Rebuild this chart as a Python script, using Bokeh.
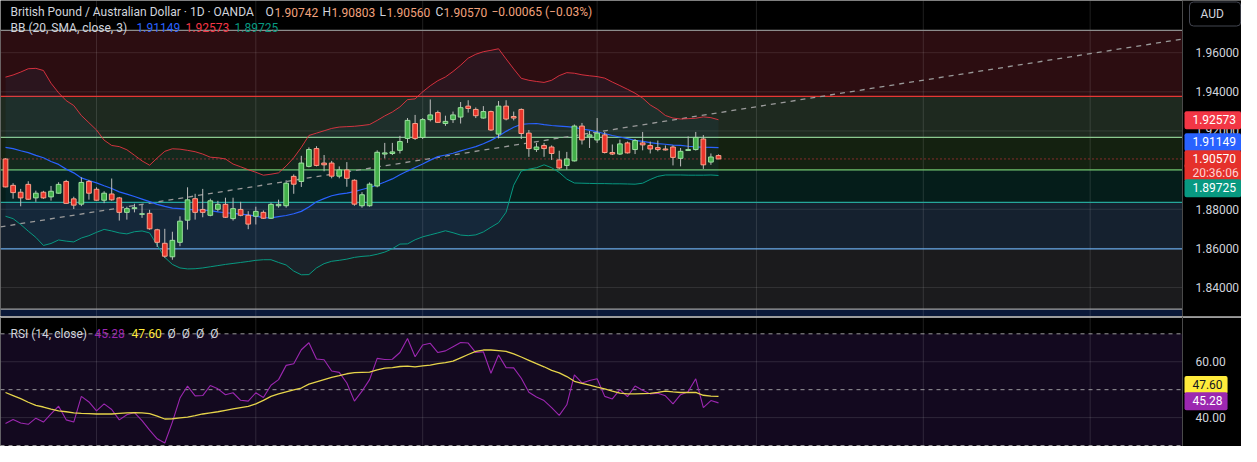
import numpy as np
from bokeh.plotting import figure
from bokeh.models import (Range1d, BoxAnnotation, Span, Label, FixedTicker,
                          PrintfTickFormatter, ColumnDataSource)
from bokeh.layouts import column
from bokeh.embed import file_html
from bokeh.resources import INLINE

# ---------------- data ----------------
opens = [1.9057, 1.8922, 1.8887, 1.8927, 1.8858, 1.8887, 1.8863, 1.8882, 1.8942, 1.8853,
         1.8826, 1.8942, 1.8902, 1.8846, 1.8878, 1.8858, 1.8784, 1.8803, 1.8774, 1.8779,
         1.8695, 1.8626, 1.8557, 1.8631, 1.8744, 1.8854, 1.8799, 1.8769, 1.8800, 1.8825,
         1.8752, 1.8799, 1.8769, 1.8764, 1.8784, 1.8754, 1.8818, 1.8818, 1.8968, 1.8942,
         1.9019, 1.9110, 1.9036, 1.9036, 1.8969, 1.9001, 1.8948, 1.8818, 1.8818, 1.8919,
         1.9082, 1.9085, 1.9101, 1.9162, 1.9238, 1.9167, 1.9258, 1.9294, 1.9238, 1.9258,
         1.9271, 1.9327, 1.9310, 1.9266, 1.9299, 1.9184, 1.9327, 1.9274, 1.9310, 1.9189,
         1.9105, 1.9126, 1.9118, 1.9052, 1.9024, 1.9047, 1.9225, 1.9170, 1.9154, 1.9180,
         1.9090, 1.9082, 1.9139, 1.9105, 1.9139, 1.9126, 1.9115, 1.9108, 1.9118, 1.9060,
         1.9100, 1.9105, 1.9159, 1.9041, 1.90742]
highs = [1.9060, 1.8933, 1.8904, 1.8943, 1.8895, 1.8894, 1.8919, 1.8938, 1.8950, 1.8864,
         1.8963, 1.8950, 1.8912, 1.8892, 1.8957, 1.8863, 1.8813, 1.8828, 1.8823, 1.8797,
         1.8700, 1.8700, 1.8685, 1.8764, 1.8912, 1.8879, 1.8904, 1.8854, 1.8843, 1.8859,
         1.8859, 1.8838, 1.8790, 1.8813, 1.8794, 1.8833, 1.8849, 1.8948, 1.8978, 1.9073,
         1.9116, 1.9122, 1.9077, 1.9047, 1.9019, 1.9041, 1.8953, 1.8887, 1.8937, 1.9101,
         1.9139, 1.9139, 1.9175, 1.9266, 1.9282, 1.9266, 1.9361, 1.9304, 1.9278, 1.9299,
         1.9348, 1.9357, 1.9320, 1.9327, 1.9304, 1.9353, 1.9357, 1.9299, 1.9315, 1.9205,
         1.9139, 1.9139, 1.9126, 1.9099, 1.9093, 1.9233, 1.9241, 1.9200, 1.9266, 1.9195,
         1.9131, 1.9156, 1.9146, 1.9159, 1.9195, 1.9146, 1.9151, 1.9126, 1.9126, 1.9113,
         1.9172, 1.9195, 1.9179, 1.9085, 1.90803]
lows = [1.8912, 1.8854, 1.8815, 1.8848, 1.8838, 1.8853, 1.8844, 1.8880, 1.8828, 1.8801,
        1.8816, 1.8849, 1.8843, 1.8831, 1.8843, 1.8742, 1.8747, 1.8784, 1.8756, 1.8695,
        1.8607, 1.8552, 1.8542, 1.8611, 1.8696, 1.8747, 1.8759, 1.8764, 1.8789, 1.8756,
        1.8742, 1.8764, 1.8698, 1.8722, 1.8751, 1.8751, 1.8808, 1.8808, 1.8879, 1.8914,
        1.9014, 1.9019, 1.8994, 1.8958, 1.8958, 1.8915, 1.8818, 1.8808, 1.8813, 1.8912,
        1.9060, 1.9077, 1.9085, 1.9139, 1.9154, 1.9159, 1.9249, 1.9241, 1.9226, 1.9241,
        1.9238, 1.9294, 1.9266, 1.9263, 1.9200, 1.9162, 1.9254, 1.9254, 1.9159, 1.9068,
        1.9093, 1.9068, 1.9052, 1.9005, 1.9003, 1.9044, 1.9131, 1.9113, 1.9139, 1.9085,
        1.9077, 1.9077, 1.9085, 1.9082, 1.9101, 1.9085, 1.9096, 1.9100, 1.9024, 1.9019,
        1.9100, 1.9100, 1.9006, 1.9027, 1.90560]
closes = [1.8914, 1.8885, 1.8858, 1.8851, 1.8882, 1.8858, 1.8892, 1.8927, 1.8830, 1.8821,
          1.8937, 1.8882, 1.8846, 1.8882, 1.8848, 1.8784, 1.8803, 1.8808, 1.8777, 1.8700,
          1.8631, 1.8560, 1.8641, 1.8739, 1.8848, 1.8784, 1.8784, 1.8843, 1.8825, 1.8759,
          1.8803, 1.8769, 1.8724, 1.8789, 1.8754, 1.8825, 1.8825, 1.8933, 1.8928, 1.9036,
          1.9105, 1.9024, 1.9027, 1.8969, 1.9001, 1.8958, 1.8826, 1.8874, 1.8928, 1.9091,
          1.9088, 1.9093, 1.9146, 1.9254, 1.9162, 1.9258, 1.9282, 1.9244, 1.9249, 1.9282,
          1.9319, 1.9315, 1.9278, 1.9299, 1.9205, 1.9327, 1.9261, 1.9266, 1.9187, 1.9110,
          1.9118, 1.9110, 1.9085, 1.9011, 1.9057, 1.9225, 1.9154, 1.9180, 1.9189, 1.9090,
          1.9082, 1.9134, 1.9088, 1.9151, 1.9129, 1.9108, 1.9105, 1.9103, 1.9065, 1.9096,
          1.9105, 1.9167, 1.9027, 1.9067, 1.90570]

bb_upper = [1.9475, 1.9486, 1.9501, 1.9518, 1.9520, 1.9509, 1.9444, 1.9395, 1.9355, 1.9330,
            1.9279, 1.9242, 1.9205, 1.9153, 1.9126, 1.9120, 1.9104, 1.9076, 1.9047, 1.9025,
            1.9062, 1.9096, 1.9109, 1.9107, 1.9101, 1.9094, 1.9082, 1.9066, 1.9063, 1.9057,
            1.9031, 1.9017, 1.9002, 1.8989, 1.8974, 1.8979, 1.8986, 1.9021, 1.9063, 1.9116,
            1.9177, 1.9189, 1.9201, 1.9213, 1.9220, 1.9222, 1.9224, 1.9228, 1.9233, 1.9254,
            1.9277, 1.9297, 1.9323, 1.9360, 1.9364, 1.9400, 1.9431, 1.9457, 1.9476, 1.9504,
            1.9536, 1.9572, 1.9592, 1.9605, 1.9612, 1.9620, 1.9568, 1.9517, 1.9469, 1.9459,
            1.9453, 1.9448, 1.9459, 1.9483, 1.9498, 1.9495, 1.9487, 1.9482, 1.9478, 1.9470,
            1.9450, 1.9432, 1.9413, 1.9393, 1.9368, 1.9333, 1.9310, 1.9279, 1.9266, 1.9261,
            1.9263, 1.9265, 1.9272, 1.9268, 1.92573]
bb_basis = [1.9116, 1.9110, 1.9099, 1.9089, 1.9075, 1.9063, 1.9044, 1.9029, 1.9005, 1.8986,
            1.8960, 1.8947, 1.8935, 1.8920, 1.8906, 1.8889, 1.8877, 1.8865, 1.8852, 1.8839,
            1.8825, 1.8815, 1.8806, 1.8803, 1.8799, 1.8797, 1.8796, 1.8793, 1.8787, 1.8782,
            1.8779, 1.8775, 1.8771, 1.8765, 1.8757, 1.8756, 1.8762, 1.8768, 1.8777, 1.8789,
            1.8811, 1.8838, 1.8854, 1.8869, 1.8877, 1.8882, 1.8890, 1.8901, 1.8911, 1.8924,
            1.8939, 1.8955, 1.8976, 1.8995, 1.9013, 1.9031, 1.9051, 1.9069, 1.9077, 1.9086,
            1.9098, 1.9109, 1.9120, 1.9135, 1.9152, 1.9173, 1.9198, 1.9219, 1.9234, 1.9237,
            1.9238, 1.9232, 1.9228, 1.9225, 1.9222, 1.9218, 1.9210, 1.9204, 1.9196, 1.9186,
            1.9177, 1.9169, 1.9161, 1.9152, 1.9147, 1.9140, 1.9135, 1.9132, 1.9128, 1.9126,
            1.9122, 1.9119, 1.9117, 1.9116, 1.91149]
bb_lower = [1.8764, 1.8752, 1.8722, 1.8688, 1.8656, 1.8615, 1.8625, 1.8643, 1.8637, 1.8633,
            1.8653, 1.8665, 1.8682, 1.8697, 1.8689, 1.8679, 1.8674, 1.8685, 1.8689, 1.8679,
            1.8616, 1.8554, 1.8518, 1.8500, 1.8495, 1.8496, 1.8500, 1.8506, 1.8512, 1.8518,
            1.8523, 1.8528, 1.8533, 1.8539, 1.8542, 1.8542, 1.8528, 1.8515, 1.8484, 1.8465,
            1.8466, 1.8500, 1.8522, 1.8534, 1.8539, 1.8545, 1.8554, 1.8559, 1.8562, 1.8570,
            1.8581, 1.8598, 1.8622, 1.8623, 1.8644, 1.8659, 1.8669, 1.8679, 1.8690, 1.8680,
            1.8668, 1.8665, 1.8669, 1.8684, 1.8708, 1.8731, 1.8785, 1.8923, 1.8995, 1.9005,
            1.9012, 1.9027, 1.9012, 1.8988, 1.8954, 1.8934, 1.8933, 1.8932, 1.8931, 1.8931,
            1.8930, 1.8930, 1.8929, 1.8928, 1.8933, 1.8952, 1.8968, 1.8975, 1.8975, 1.8975,
            1.8974, 1.8974, 1.8974, 1.8975, 1.89725]

rsi = [37.9, 39.3, 38.1, 37.6, 39.8, 38.4, 41.3, 44.1, 39.2, 38.4,
       47.6, 45.6, 42.4, 44.9, 42.9, 39.2, 41.0, 41.8, 38.9, 35.5,
       32.4, 30.9, 38.4, 47.0, 51.3, 47.8, 47.9, 51.5, 50.3, 48.2,
       48.9, 46.2, 45.9, 48.9, 47.2, 51.6, 53.6, 58.7, 59.3, 64.3,
       66.8, 61.0, 60.7, 56.7, 56.2, 52.4, 45.9, 49.5, 53.6, 61.2,
       60.8, 60.9, 63.3, 68.3, 61.8, 66.0, 66.6, 63.3, 63.9, 65.4,
       66.9, 66.7, 63.3, 63.6, 55.9, 62.4, 57.9, 57.8, 54.1, 49.1,
       47.4, 46.1, 43.6, 40.8, 44.6, 55.3, 52.4, 53.3, 53.9, 47.6,
       46.7, 50.0, 47.5, 51.3, 49.8, 48.5, 48.7, 47.8, 44.9, 48.2,
       49.3, 53.9, 43.6, 46.1, 45.28]
rsi_ma = [49.0, 47.9, 46.8, 45.5, 44.4, 43.8, 43.0, 42.4, 42.1, 41.7,
          41.5, 41.4, 41.3, 41.3, 41.3, 41.5, 41.7, 41.8, 41.7, 41.4,
          40.5, 39.5, 39.6, 39.9, 40.2, 40.7, 41.3, 41.7, 42.1, 42.6,
          43.1, 43.6, 44.0, 44.9, 46.2, 47.6, 48.5, 49.2, 49.9, 50.6,
          52.0, 52.8, 53.6, 54.4, 55.0, 55.7, 56.1, 56.2, 56.3, 57.1,
          57.7, 57.9, 58.3, 58.4, 58.2, 58.5, 58.8, 59.3, 59.7, 60.2,
          61.4, 62.6, 63.7, 64.2, 64.2, 64.0, 63.7, 62.8, 61.7, 60.5,
          59.3, 58.2, 56.9, 56.0, 54.7, 53.0, 52.3, 51.6, 50.9, 50.3,
          49.5, 48.8, 48.5, 48.5, 48.6, 48.7, 49.0, 49.5, 49.2, 49.0,
          49.0, 49.0, 48.0, 47.7, 47.60]

zone_tops = [1.97136, 1.93763, 1.91669, 1.90010, 1.88346, 1.85975, 1.82899]
zone_bottoms = [1.93763, 1.91669, 1.90010, 1.88346, 1.85975, 1.82899, None]
zone_fills = ["#2c0d11", "#1e291f", "#142110", "#051d1a", "#15212f", "#1b1b1d", "#0a1838"]
zone_lines = [1.97136, 1.93763, 1.91669, 1.90010, 1.88346, 1.85975, 1.82899]
zone_line_colors = ["#8c8c8c", "#e53935", "#8bc88e", "#6abf69", "#26a69a", "#64a8e8", "#a0a0a0"]

trend_x = [-0.66, 155.17]
trend_y = [1.8710, 1.9670]
month_starts = [12, 33, 55, 78, 99, 121, 143]
price_ticks = [1.84, 1.86, 1.88, 1.92, 1.94, 1.96]
rsi_ticks = [40, 60]
rsi_levels = [70, 50, 30]
last_price = 1.90570

# ---------------- styling ----------------
FONT = "Roboto"
TXT = "#d1d4dc"
W, H1, H2 = 1241, 316, 130
X_LEFT, X_EDGE, X_RIGHT = -0.66, 155.17, 162.95   # price-scale column starts at X_EDGE
GREEN, GREEN_EDGE = "#43b04a", "#9be09f"
RED, RED_EDGE = "#e8352b", "#f9a08a"
WICK = "#bdbdbd"
NB = "\u00a0"

xr = Range1d(X_LEFT, X_RIGHT)


def style_axis(ax, ticks, fmt):
    ax.fixed_location = X_EDGE
    ax.ticker = FixedTicker(ticks=ticks)
    ax.formatter = PrintfTickFormatter(format=fmt)
    ax.major_tick_line_color = None
    ax.minor_tick_line_color = None
    ax.major_tick_in = 0
    ax.major_tick_out = 0
    ax.axis_line_color = "#4a4a4a"
    ax.major_label_text_color = TXT
    ax.major_label_text_font = FONT
    ax.major_label_text_font_size = "12px"
    ax.major_label_standoff = 13


def txt(p, x, y, text, color, size="12px"):
    p.add_layout(Label(x=x, y=y, x_units="screen", y_units="screen", text=text,
                       text_color=color, text_font=FONT, text_font_size=size,
                       text_baseline="middle", text_align="left"))


def tag(p, x, y, text, bg, color="#ffffff"):
    p.add_layout(Label(x=x, y=y, x_units="screen", y_units="screen",
                       text=NB + NB + text + NB, text_color=color, text_font=FONT,
                       text_font_size="12px", text_baseline="middle", text_align="left",
                       background_fill_color=bg, background_fill_alpha=1.0,
                       padding=2, border_radius=2))


def make_fig(h, yrange):
    p = figure(width=W, height=h, x_range=xr, y_range=yrange,
               output_backend="svg", toolbar_location=None, x_axis_location=None,
               y_axis_location="right", title_location=None, min_border=0,
               background_fill_color="#000000", border_fill_color="#000000",
               outline_line_color=None)
    p.grid.visible = False
    return p


def axis_column(p):
    # black price-scale column covering everything underneath it
    p.add_layout(BoxAnnotation(left=X_EDGE, fill_color="#000000", fill_alpha=1.0,
                               line_alpha=0, level="underlay"))


# ---------------- main pane ----------------
p1 = make_fig(H1, Range1d(1.82519, 1.98667))
style_axis(p1.yaxis[0], price_ticks, "%.5f")

for top, bot, col in zip(zone_tops, zone_bottoms, zone_fills):
    p1.add_layout(BoxAnnotation(top=top, bottom=bot, fill_color=col, fill_alpha=1.0,
                                line_alpha=0, level="underlay"))
for t in price_ticks + [1.90]:
    p1.add_layout(Span(location=t, dimension="width", line_color="#ffffff",
                       line_alpha=0.1, line_width=1, level="underlay"))
for m in month_starts:
    p1.add_layout(Span(location=m, dimension="height", line_color="#ffffff",
                       line_alpha=0.12, line_width=1, level="underlay"))
for lv, col in zip(zone_lines, zone_line_colors):
    p1.add_layout(Span(location=lv, dimension="width", line_color=col,
                       line_width=1.3, level="underlay"))
p1.add_layout(Span(location=last_price, dimension="width", line_color="#f23645",
                   line_width=1, line_dash="1 3", level="underlay"))
axis_column(p1)

idx = np.arange(len(closes))
p1.varea(x=idx, y1=bb_lower, y2=bb_upper, fill_color="#2196f3", fill_alpha=0.06)
p1.line(trend_x, trend_y, line_color="#9a9a9a", line_width=1.3, line_dash="5 5")
p1.line(idx, bb_upper, line_color="#f23645", line_width=1, line_alpha=0.85)
p1.line(idx, bb_basis, line_color="#2962ff", line_width=1.2)
p1.line(idx, bb_lower, line_color="#089981", line_width=1)

o = np.array(opens)
c = np.array(closes)
up = c >= o
src = ColumnDataSource(dict(
    x=idx, high=highs, low=lows,
    top=np.maximum(o, c), bottom=np.minimum(o, c),
    fill=np.where(up, GREEN, RED), edge=np.where(up, GREEN_EDGE, RED_EDGE)))
p1.segment("x", "high", "x", "low", source=src, line_color=WICK, line_width=1)
p1.vbar(x="x", width=0.62, top="top", bottom="bottom", source=src,
        fill_color="fill", line_color="edge", line_width=1)

# legend texts
y1, y2 = 304.4, 289.0
txt(p1, 10, y1, "British Pound / Australian Dollar · 1D · OANDA", TXT)
ORANGE = "#f2a27c"
for x_l, lab, x_v, val in [(265, "O", 274, "1.90742"), (322, "H", 331, "1.90803"),
                           (379, "L", 386, "1.90560"), (435, "C", 443, "1.90570")]:
    txt(p1, x_l, y1, lab, TXT)
    txt(p1, x_v, y1, val, ORANGE)
txt(p1, 491, y1, "−0.00065 (−0.03%)", ORANGE)
txt(p1, 10, y2, "BB (20, SMA, close, 3)", TXT)
txt(p1, 136, y2, "1.91149", "#2962ff")
txt(p1, 185, y2, "1.92573", "#f23645")
txt(p1, 234, y2, "1.89725", "#089981")

# price-scale tags
p1.add_layout(Label(x=1189, y=302.5, x_units="screen", y_units="screen",
                    text=NB + NB + "AUD" + NB * 4, text_color=TXT, text_font=FONT,
                    text_font_size="12px", text_baseline="middle", text_align="left",
                    background_fill_color="#000000", border_line_color="#434651",
                    border_line_width=1, padding=5, border_radius=4))
tag(p1, 1184, 196.2, "1.92573", "#f23645")
tag(p1, 1184, 174.2, "1.91149", "#2962ff")
tag(p1, 1184, 144.0, "20:36:06", "#e5302b", "#ffd6d6")
tag(p1, 1184, 157.2, "1.90570", "#e5302b")
tag(p1, 1184, 128.2, "1.89725", "#089981")

# ---------------- RSI pane ----------------
p2 = make_fig(H2, Range1d(29.66, 76.2))
style_axis(p2.yaxis[0], rsi_ticks, "%.2f")

p2.add_layout(BoxAnnotation(bottom=30, top=70, fill_color="#13091f", fill_alpha=1.0,
                            line_alpha=0, level="underlay"))
for t in rsi_ticks:
    p2.add_layout(Span(location=t, dimension="width", line_color="#ffffff",
                       line_alpha=0.12, line_width=1, level="underlay"))
for m in month_starts:
    p2.add_layout(Span(location=m, dimension="height", line_color="#ffffff",
                       line_alpha=0.12, line_width=1, level="underlay"))
for lv in rsi_levels:
    p2.add_layout(Span(location=lv, dimension="width", line_color="#b4b4b4",
                       line_alpha=0.85, line_width=1, line_dash="4 4", level="underlay"))
axis_column(p2)
p2.add_layout(Span(location=76.05, dimension="width", line_color="#d0d0d0",
                   line_width=1.5, level="underlay"))

p2.line(idx, rsi, line_color="#9c27b0", line_width=1.1)
p2.line(idx, rsi_ma, line_color="#e6d44a", line_width=1.3)

yr = 112.7
txt(p2, 10, yr, "RSI (14, close)", TXT)
txt(p2, 94, yr, "45.28", "#9c27b0")
txt(p2, 131, yr, "47.60", "#ffeb3b")
txt(p2, 167, yr, "Ø" + NB * 2 + "Ø" + NB * 2 + "Ø" + NB * 2 + "Ø", TXT)

tag(p2, 1184, 61.6, "47.60", "#ffeb3b", "#131722")
tag(p2, 1184, 45.3, "45.28", "#9c27b0")

layout = column(p1, p2, spacing=0)
open("out.html", "w").write(file_html(layout, INLINE))
